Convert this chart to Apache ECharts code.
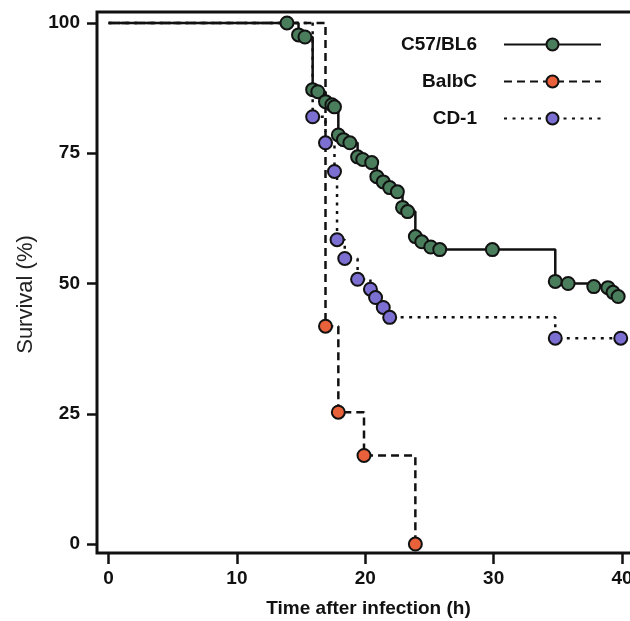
<!DOCTYPE html>
<html>
<head>
<meta charset="utf-8">
<script src="https://cdn.jsdelivr.net/npm/echarts@6/dist/echarts.min.js"></script>
<style>
  html, body { margin: 0; padding: 0; background: #fff; }
  #chart { width: 630px; height: 621px; }
</style>
</head>
<body>
<div id="chart"></div>
<script>
// Kaplan-Meier style survival data (time in h, survival in %)
var c57Time = [0, 13.9, 14.8, 15.3, 15.9, 16.3, 16.9, 17.4, 17.6, 17.9, 18.3, 18.8, 19.4, 19.8, 20.5, 20.9, 21.4, 21.9, 22.5, 22.9, 23.3, 23.9, 24.4, 25.1, 25.8, 29.9, 34.8, 35.8, 37.8, 38.9, 39.3, 39.7];
var c57Surv = [100, 100, 97.7, 97.3, 87.2, 86.8, 84.9, 84.3, 83.9, 78.5, 77.6, 77.0, 74.3, 73.8, 73.2, 70.5, 69.5, 68.4, 67.6, 64.6, 63.8, 59.0, 58.0, 57.0, 56.5, 56.5, 50.4, 50.0, 49.4, 49.2, 48.3, 47.5];

var balbTime = [0, 16.9, 17.9, 19.9, 23.9];
var balbSurv = [100, 41.8, 25.3, 17.0, 0];

var cd1Time = [0, 15.9, 16.9, 17.6, 17.8, 18.4, 19.4, 20.4, 20.8, 21.4, 21.9, 34.8, 39.9];
var cd1Surv = [100, 82.0, 77.0, 71.5, 58.4, 54.8, 50.8, 48.9, 47.3, 45.4, 43.5, 39.5, 39.5];

var xTicks = [0, 10, 20, 30, 40];
var yTicks = [0, 25, 50, 75, 100];

var FONT = "'Liberation Sans', Arial, sans-serif";

function toData(times, surv) {
  var out = [];
  for (var i = 0; i < times.length; i++) {
    if (i === 0) {
      out.push({ value: [times[i], surv[i]], symbol: 'none' });
    } else {
      out.push([times[i], surv[i]]);
    }
  }
  return out;
}

function makeSeries(name, times, surv, fill, dash) {
  return {
    name: name,
    type: 'line',
    step: 'end',
    data: toData(times, surv),
    symbol: 'circle',
    symbolSize: 13,
    showAllSymbol: true,
    clip: false,
    lineStyle: { color: '#111', width: 2.5, type: dash },
    itemStyle: { color: fill, borderColor: '#111', borderWidth: 2 },
    emphasis: { disabled: true }
  };
}

var chart = echarts.init(document.getElementById('chart'));
chart.setOption({
  animation: false,
  grid: {
    left: 97, top: 12, right: -10, bottom: 68,
    outerBoundsMode: 'none',
    containLabel: false,
    show: true, borderColor: '#111', borderWidth: 3
  },
  legend: {
    data: ['C57/BL6', 'BalbC', 'CD-1'],
    orient: 'vertical',
    right: 23,
    top: 30,
    align: 'right',
    itemWidth: 97,
    itemHeight: 15,
    itemGap: 18,
    textStyle: {
      fontFamily: FONT, fontSize: 19, fontWeight: 'bold', color: '#111',
      padding: [0, 22, 0, 0]
    }
  },
  xAxis: {
    type: 'value',
    min: -0.9,
    max: 41.4,
    name: 'Time after infection (h)',
    nameLocation: 'middle',
    nameGap: 46,
    nameMoveOverlap: false,
    nameTextStyle: { fontFamily: FONT, fontSize: 19, fontWeight: 'bold', color: '#111' },
    axisLine: { show: false, onZero: false },
    splitLine: { show: false },
    axisTick: { show: true, inside: false, customValues: xTicks, length: 11, lineStyle: { color: '#111', width: 2.5 } },
    axisLabel: { customValues: xTicks, margin: 16, fontFamily: FONT, fontSize: 19, fontWeight: 'bold', color: '#111' }
  },
  yAxis: {
    type: 'value',
    min: -1.72,
    max: 102.1,
    name: 'Survival (%)',
    nameLocation: 'middle',
    nameRotate: 90,
    nameGap: 60,
    nameMoveOverlap: false,
    nameTextStyle: { fontFamily: FONT, fontSize: 22, color: '#222', padding: [0, 24, 0, 0] },
    axisLine: { show: false, onZero: false },
    splitLine: { show: false },
    axisTick: { show: true, inside: false, customValues: yTicks, length: 10, lineStyle: { color: '#111', width: 2.5 } },
    axisLabel: { customValues: yTicks, margin: 17, fontFamily: FONT, fontSize: 19, fontWeight: 'bold', color: '#111' }
  },
  series: [
    makeSeries('BalbC', balbTime, balbSurv, '#e8613a', [8, 5]),
    makeSeries('CD-1', cd1Time, cd1Surv, '#7c6fd2', [3, 5.5]),
    makeSeries('C57/BL6', c57Time, c57Surv, '#4a7d5c', 'solid')
  ]
});
window.addEventListener('resize', function () {
  chart.resize();
});
</script>
</body>
</html>
